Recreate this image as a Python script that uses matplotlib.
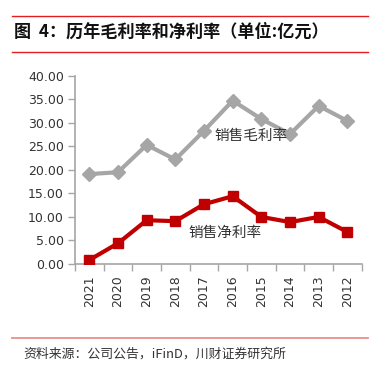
import matplotlib
matplotlib.use("Agg")
import matplotlib.pyplot as plt
from matplotlib.lines import Line2D
import numpy as np

plt.rcParams['font.family'] = ['Noto Sans CJK SC', 'DejaVu Sans']

years = ["2021", "2020", "2019", "2018", "2017", "2016", "2015", "2014", "2013", "2012"]
gross_margin = [19.1, 19.5, 25.3, 22.2, 28.3, 34.7, 30.8, 27.6, 33.6, 30.4]
net_margin = [0.85, 4.4, 9.3, 9.1, 12.7, 14.4, 10.0, 8.9, 10.0, 6.8]
yticks = [0, 5, 10, 15, 20, 25, 30, 35, 40]

title = "图  4：历年毛利率和净利率（单位:亿元）"
source = "资料来源：公司公告，iFinD，川财证券研究所"
label_gross = "销售毛利率"
label_net = "销售净利率"

W, H = 378, 372
fig = plt.figure(figsize=(W / 100, H / 100), dpi=100)

def fx(px):
    return px / W

def fy(py):
    return 1 - py / H

ax = fig.add_axes([fx(75), fy(264), fx(361.7) - fx(75), fy(75.7) - fy(264)])
x = np.arange(len(years))
gray = "#A6A6A6"
red = "#C00000"
ax.plot(x, gross_margin, color=gray, lw=3, marker="D", ms=7.5, mfc=gray, mec=gray, zorder=3)
ax.plot(x, net_margin, color=red, lw=3, marker="s", ms=7.5, mfc=red, mec=red, zorder=3)

ax.set_xlim(-0.5, len(years) - 0.5)
ax.set_ylim(0, 40)
ax.set_yticks(yticks)
ax.set_yticklabels([f"{v:.2f}" for v in yticks], fontsize=9, color="#333333", family="DejaVu Sans")
ax.set_xticks(x)
ax.set_xticklabels(years, rotation=90, fontsize=9, color="#333333", family="DejaVu Sans")
ax.set_xticks(np.arange(-0.5, len(years), 1), minor=True)
ax.tick_params(axis="x", which="major", length=0, pad=8)
ax.tick_params(axis="x", which="minor", length=5, width=1, color="#A6A6A6", direction="out")
ax.tick_params(axis="y", length=5, width=1, color="#A6A6A6", direction="out", pad=3)
for s in ["top", "right"]:
    ax.spines[s].set_visible(False)
for s in ["left", "bottom"]:
    ax.spines[s].set_color("#A6A6A6")
    ax.spines[s].set_linewidth(1.2)

ax.text(5.65, 27.3, label_gross, fontsize=10.5, color="#333333", ha="center", va="center")
ax.text(4.75, 6.6, label_net, fontsize=10.5, color="#333333", ha="center", va="center")

# header / footer decorations
fig.add_artist(Line2D([fx(12), fx(368)], [fy(16), fy(16)], color="#E02020", lw=1))
fig.add_artist(Line2D([fx(12), fx(368)], [fy(52), fy(52)], color="#E02020", lw=1))
fig.add_artist(Line2D([fx(12), fx(368)], [fy(337.7), fy(337.7)], color="#E89090", lw=1.3))
fig.text(fx(14), fy(32), title, fontsize=12.3, fontweight="bold", color="#111111", ha="left", va="center")
fig.text(fx(23), fy(354), source, fontsize=9.3, style="italic", color="#333333", ha="left", va="center")

fig.savefig("out.png", dpi=100)
